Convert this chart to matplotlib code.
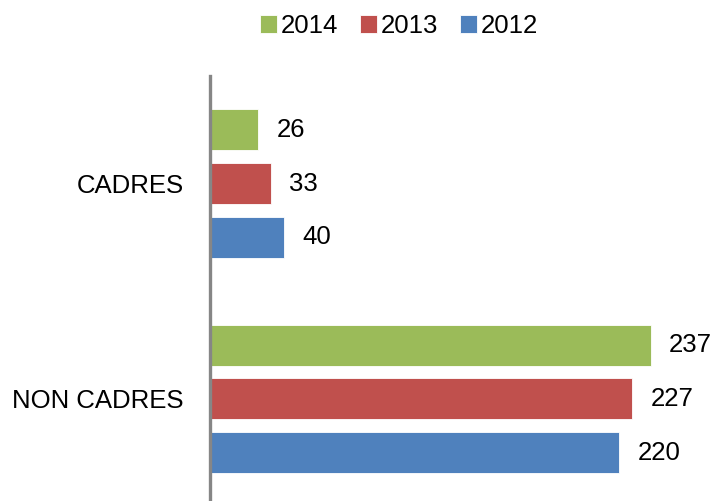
import matplotlib.pyplot as plt
import numpy as np

plt.rcParams['font.family'] = ['Liberation Sans', 'DejaVu Sans']

categories = ['CADRES', 'NON CADRES']
years = ['2014', '2013', '2012']
values = {
    '2014': [26, 237],
    '2013': [33, 227],
    '2012': [40, 220],
}
colors = ['#9BBB59', '#C0504D', '#4F81BD']

fig = plt.figure(figsize=(7.16, 5.01), dpi=100)
# axes: left edge at the vertical axis line, top at ~76px, bottom at image bottom
ax = fig.add_axes([210 / 716, 0.0, 500 / 716, 425 / 501])

y = np.arange(len(categories))
offsets = [-0.25, 0.0, 0.25]
bar_h = 0.19
for yr, off, c in zip(years, offsets, colors):
    bars = ax.barh(y + off, values[yr], height=bar_h, color=c, label=yr,
                   edgecolor='white', linewidth=0.6)
    for b, v in zip(bars, values[yr]):
        ax.annotate(str(v), (b.get_width(), b.get_y() + b.get_height() / 2),
                    xytext=(13, 0), textcoords='offset points',
                    va='center', ha='left', fontsize=18.5)

ax.set_xlim(0, 500 / 1.861)
ax.set_ylim(1.474, -0.5)
ax.set_yticks(y)
ax.set_yticklabels(categories, fontsize=18.5)
ax.tick_params(axis='y', length=0, pad=19)
ax.set_xticks([])
for s in ['top', 'right', 'bottom']:
    ax.spines[s].set_visible(False)
ax.spines['left'].set_color('#868686')
ax.spines['left'].set_linewidth(2.4)

fig.legend(loc='center', bbox_to_anchor=(399 / 716, 1 - 26 / 501), ncol=3,
           frameon=False, fontsize=18.5, handlelength=0.65, handleheight=0.65,
           handletextpad=0.15, columnspacing=0.85)

fig.savefig('out.png', dpi=100)
